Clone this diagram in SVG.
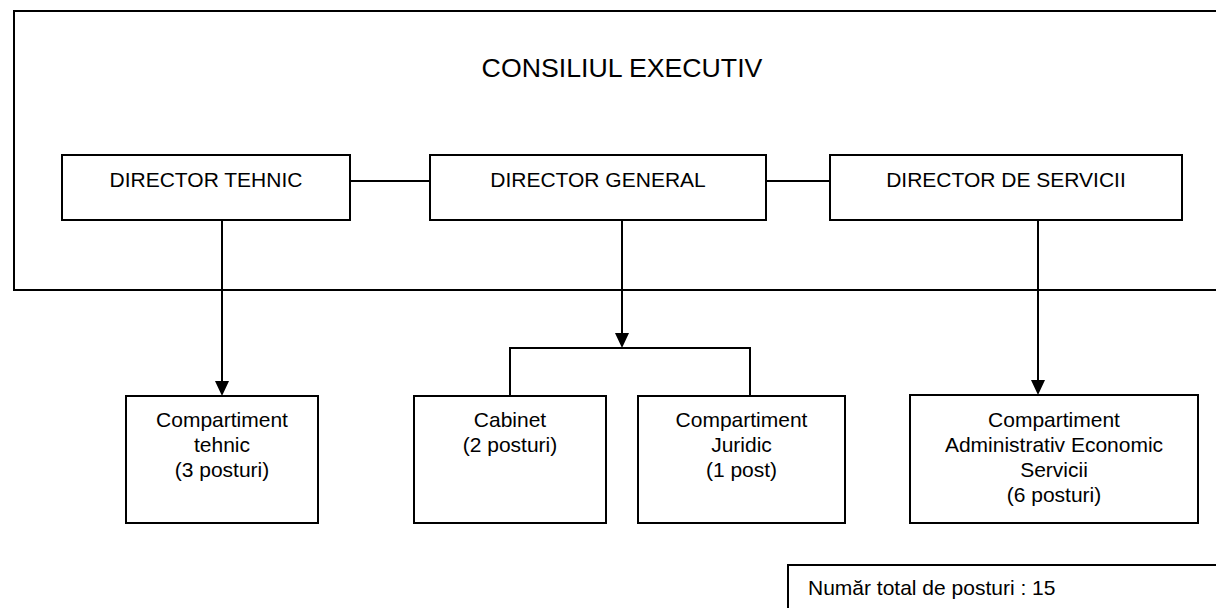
<svg xmlns="http://www.w3.org/2000/svg" width="1216" height="608" viewBox="0 0 1216 608">
<style>
.box{fill:#fff;stroke:#000;stroke-width:2}
.frame{fill:none;stroke:#000;stroke-width:2}
.ln{fill:none;stroke:#000;stroke-width:2}
.ah{fill:#000}
text{font-family:"Liberation Sans",Arial,sans-serif;font-size:21px;fill:#000}
.c{text-anchor:middle}
</style>
<g id="consiliul">
<rect class="frame" x="14" y="11" width="1220" height="279"/>
<text x="622" y="77" class="c" style="font-size:26.7px">CONSILIUL EXECUTIV</text>
</g>
<g id="connectors">
<line class="ln" x1="350" y1="181" x2="430" y2="181"/>
<line class="ln" x1="766" y1="181" x2="830" y2="181"/>
<line class="ln" x1="222" y1="220" x2="222" y2="382"/>
<polygon class="ah" points="215,381 229,381 222,396"/>
<line class="ln" x1="622" y1="220" x2="622" y2="334"/>
<polygon class="ah" points="615,333 629,333 622,348"/>
<polyline class="ln" points="510,395 510,348 750,348 750,395"/>
<line class="ln" x1="1038" y1="220" x2="1038" y2="381"/>
<polygon class="ah" points="1031,380 1045,380 1038,395"/>
</g>
<g id="director-tehnic">
<rect class="box" x="62" y="155" width="288" height="65"/>
<text x="206" y="187" class="c">DIRECTOR TEHNIC</text>
</g>
<g id="director-general">
<rect class="box" x="430" y="155" width="336" height="65"/>
<text x="598" y="187" class="c">DIRECTOR GENERAL</text>
</g>
<g id="director-servicii">
<rect class="box" x="830" y="155" width="352" height="65"/>
<text x="1006" y="187" class="c">DIRECTOR DE SERVICII</text>
</g>
<g id="comp-tehnic">
<rect class="box" x="126" y="396" width="192" height="127"/>
<text x="222" y="427" class="c">Compartiment</text>
<text x="222" y="452" class="c">tehnic</text>
<text x="222" y="477" class="c">(3 posturi)</text>
</g>
<g id="cabinet">
<rect class="box" x="414" y="396" width="192" height="127"/>
<text x="510" y="427" class="c">Cabinet</text>
<text x="510" y="452" class="c">(2 posturi)</text>
</g>
<g id="comp-juridic">
<rect class="box" x="638" y="396" width="207" height="127"/>
<text x="741.5" y="427" class="c">Compartiment</text>
<text x="741.5" y="452" class="c">Juridic</text>
<text x="741.5" y="477" class="c">(1 post)</text>
</g>
<g id="comp-admin">
<rect class="box" x="910" y="395" width="288" height="128"/>
<text x="1054" y="427" class="c">Compartiment</text>
<text x="1054" y="452" class="c">Administrativ Economic</text>
<text x="1054" y="477" class="c">Servicii</text>
<text x="1054" y="502" class="c">(6 posturi)</text>
</g>
<g id="total">
<rect class="box" x="788" y="565" width="440" height="60"/>
<text x="808" y="595">Număr total de posturi : 15</text>
</g>
</svg>
